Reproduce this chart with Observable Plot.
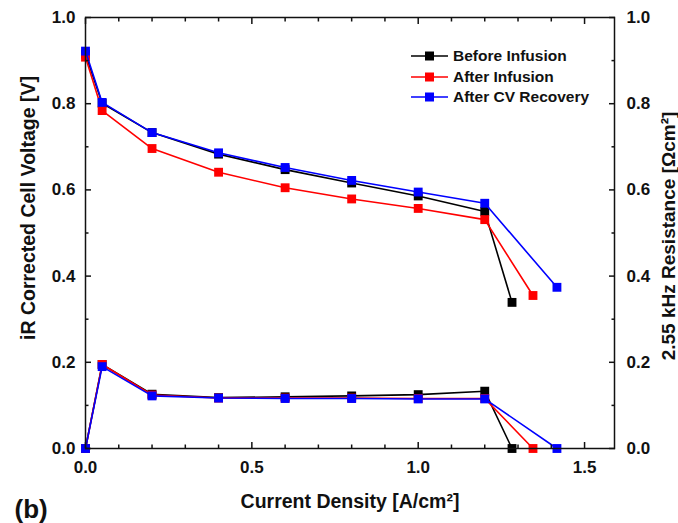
<!DOCTYPE html>
<html>
<head>
<meta charset="utf-8">
<script src="https://cdn.jsdelivr.net/npm/d3@7"></script>
<script src="https://cdn.jsdelivr.net/npm/@observablehq/plot@0.6"></script>
<style>
  html, body { margin: 0; padding: 0; background: #fff; }
  #wrap { position: relative; width: 678px; height: 523px; font-family: "Liberation Sans", Arial, sans-serif; }
  #legend { position: absolute; left: 411px; top: 46px; font-weight: bold; font-size: 15.5px; color: #111; line-height: 20.5px; }
  #legend .row { display: flex; align-items: center; white-space: nowrap; }
  #legend svg { margin-right: 5px; }
</style>
</head>
<body>
<div id="wrap"><div id="legend"></div></div>
<script>
// ---- data ----
const seriesNames = ["Before Infusion", "After Infusion", "After CV Recovery"];
const seriesColors = ["#000000", "#ff0000", "#0000ff"];

const beforeDensity    = [0, 0.05, 0.2, 0.4, 0.6, 0.8, 1.0, 1.2, 1.282];
const beforeVoltage    = [0.915, 0.801, 0.733, 0.683, 0.647, 0.616, 0.586, 0.550, 0.339];
const beforeResistance = [0, 0.195, 0.126, 0.118, 0.120, 0.122, 0.125, 0.133, 0];

const afterDensity     = [0, 0.05, 0.2, 0.4, 0.6, 0.8, 1.0, 1.2, 1.345];
const afterVoltage     = [0.908, 0.784, 0.696, 0.641, 0.605, 0.579, 0.557, 0.531, 0.355];
const afterResistance  = [0, 0.195, 0.124, 0.117, 0.117, 0.117, 0.116, 0.116, 0];

const cvDensity        = [0, 0.05, 0.2, 0.4, 0.6, 0.8, 1.0, 1.2, 1.417];
const cvVoltage        = [0.922, 0.803, 0.733, 0.686, 0.652, 0.622, 0.595, 0.569, 0.374];
const cvResistance     = [0, 0.190, 0.122, 0.117, 0.116, 0.116, 0.115, 0.115, 0];

const xMajorTicks = [0, 0.5, 1.0, 1.5];
const xMinorTicks = [0.1, 0.2, 0.3, 0.4, 0.6, 0.7, 0.8, 0.9, 1.1, 1.2, 1.3, 1.4];
const yMajorTicks = [0, 0.2, 0.4, 0.6, 0.8, 1.0];
const yMinorTicks = [0.1, 0.3, 0.5, 0.7, 0.9];

const xTitle = "Current Density [A/cm²]";
const yLeftTitle = "iR Corrected Cell Voltage [V]";
const yRightTitle = "2.55 kHz Resistance [Ωcm²]";
const panelLabel = "(b)";

// ---- build tables ----
function rows(name, xs, ys) { return xs.map((x, i) => ({series: name, x, y: ys[i]})); }
const series = [
  {name: seriesNames[0], color: seriesColors[0], v: rows(seriesNames[0], beforeDensity, beforeVoltage), r: rows(seriesNames[0], beforeDensity, beforeResistance)},
  {name: seriesNames[1], color: seriesColors[1], v: rows(seriesNames[1], afterDensity, afterVoltage), r: rows(seriesNames[1], afterDensity, afterResistance)},
  {name: seriesNames[2], color: seriesColors[2], v: rows(seriesNames[2], cvDensity, cvVoltage), r: rows(seriesNames[2], cvDensity, cvResistance)}
];

const fmt = d3.format(".1f");
const dataMarks = [];
for (const s of series) {
  for (const d of [s.v, s.r]) {
    dataMarks.push(Plot.line(d, {x: "x", y: "y", stroke: s.color, strokeWidth: 1.6}));
    dataMarks.push(Plot.dot(d, {x: "x", y: "y", symbol: "square", r: 5, fill: s.color, stroke: "none"}));
  }
}

const titleFont = 19.5;
const chart = Plot.plot({
  width: 678,
  height: 523,
  marginLeft: 85,
  marginRight: 64,
  marginTop: 17,
  marginBottom: 75,
  style: {fontFamily: "'Liberation Sans', Arial, sans-serif", fontSize: "17px", fontWeight: "bold", color: "#111", background: "transparent", overflow: "visible"},
  x: {domain: [0, 1.59]},
  y: {domain: [0, 1]},
  marks: [
    ...dataMarks,
    Plot.frame({stroke: "#111", strokeWidth: 1.5}),
    // bottom axis
    Plot.axisX(xMajorTicks, {anchor: "bottom", tickSize: -6, tickPadding: 18, tickFormat: fmt, label: null, strokeWidth: 1.5}),
    Plot.axisX(xMinorTicks, {anchor: "bottom", tickSize: -3.5, fill: "none", label: null, strokeWidth: 1.5}),
    // top axis
    Plot.axisX(xMajorTicks, {anchor: "top", tickSize: -6, fill: "none", label: null, strokeWidth: 1.5}),
    Plot.axisX(xMinorTicks, {anchor: "top", tickSize: -3.5, fill: "none", label: null, strokeWidth: 1.5}),
    // left axis
    Plot.axisY(yMajorTicks, {anchor: "left", tickSize: -6, tickPadding: 16, tickFormat: fmt, label: null, strokeWidth: 1.5}),
    Plot.axisY(yMinorTicks, {anchor: "left", tickSize: -3.5, fill: "none", label: null, strokeWidth: 1.5}),
    // right axis
    Plot.axisY(yMajorTicks, {anchor: "right", tickSize: -6, tickPadding: 18, tickFormat: fmt, label: null, strokeWidth: 1.5}),
    Plot.axisY(yMinorTicks, {anchor: "right", tickSize: -3.5, fill: "none", label: null, strokeWidth: 1.5}),
    // titles
    Plot.text([xTitle], {text: d => d, frameAnchor: "bottom", dy: 53, lineAnchor: "middle", textAnchor: "middle", fontSize: titleFont, fontWeight: "bold", fill: "#111"}),
    Plot.text([yLeftTitle], {text: d => d, frameAnchor: "left", dx: -57, dy: -25, rotate: -90, textAnchor: "middle", lineAnchor: "middle", fontSize: titleFont, fontWeight: "bold", fill: "#111"}),
    Plot.text([yRightTitle], {text: d => d, frameAnchor: "right", dx: 54, dy: 3, rotate: -90, textAnchor: "middle", lineAnchor: "middle", fontSize: 19, fontWeight: "bold", fill: "#111"}),
    Plot.text([panelLabel], {text: d => d, frameAnchor: "bottom-left", dx: -71, dy: 61, textAnchor: "start", lineAnchor: "middle", fontSize: 26, fontWeight: "bold", fill: "#111"})
  ]
});
document.getElementById("wrap").prepend(chart);

// legend
const legend = document.getElementById("legend");
for (let i = 0; i < seriesNames.length; i++) {
  const row = document.createElement("div");
  row.className = "row";
  row.innerHTML = `<svg width="37" height="12"><line x1="0" x2="37" y1="6" y2="6" stroke="${seriesColors[i]}" stroke-width="1.6"/><rect x="14" y="1.5" width="9" height="9" fill="${seriesColors[i]}"/></svg><span></span>`;
  row.querySelector("span").textContent = seriesNames[i];
  legend.appendChild(row);
}
</script>
</body>
</html>
